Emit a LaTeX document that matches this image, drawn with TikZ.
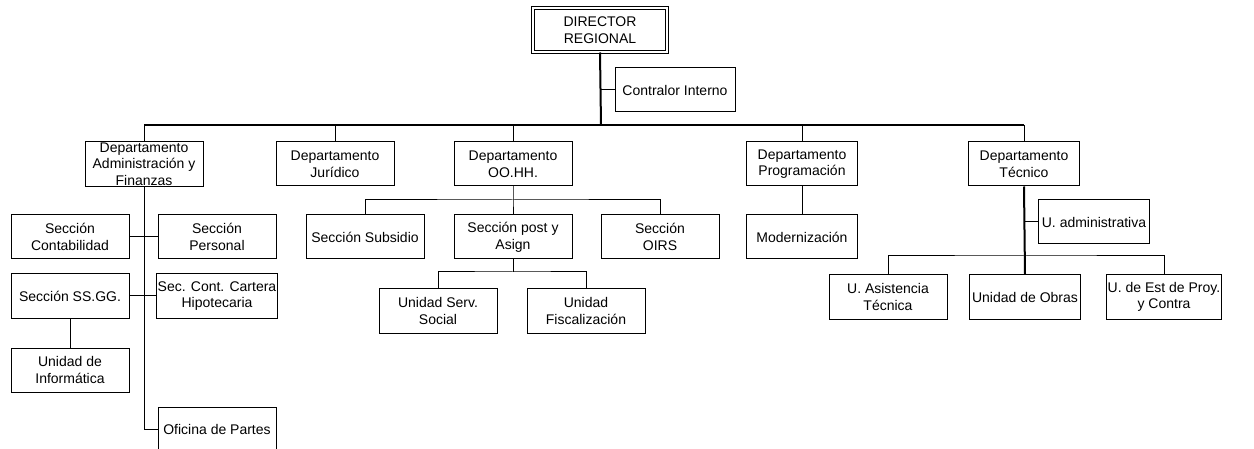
\documentclass[tikz,border=0pt]{standalone}
\usepackage{fontspec}
\setmainfont{Liberation Sans}
\usepackage{tikz}
\usetikzlibrary{positioning}

\tikzset{
  box/.style={draw,line width=0.75pt,align=center,inner sep=1pt,
    minimum width=88.5pt,minimum height=33pt,
    font=\fontsize{10.5}{12.5}\selectfont},
  narrow/.style={box,minimum width=83.5pt},
  thickline/.style={line width=1.5pt}
}

\begin{document}
\begin{tikzpicture}[x=0.75pt,y=-0.75pt,line width=0.75pt]
				\useasboundingbox (0,0) rectangle (1254,449);
				\node(dir)  [box,double,double distance=1.5pt,minimum width=100.5pt] at (600,30) {DIRECTOR\\REGIONAL};
				\node(contr) [box,minimum width=90pt] at (675,90) {Contralor Interno};
				\node(adm)  [box] at (144,164) {Departamento\\Administración y\\Finanzas};
				\node(jur)  [box] at (335,164) {Departamento\\Jurídico};
				\node(ooh)  [box] at (513,164) {Departamento\\OO.HH.};
				\node(prog) [narrow] at (802,164) {Departamento\\Programación};
				\node(tec)  [narrow] at (1024,164) {Departamento\\Técnico};
				\node(cont) [box] at (70,237) {Sección\\Contabilidad};
				\node(pers) [box] at (217,237) {Sección\\Personal};
				\node(ssgg) [box] at (70,296) {Sección SS.GG.};
				\node(cart) [box] at (217,296) {Sec. Cont. Cartera\\Hipotecaria};
				\node(inf)  [box] at (70,370) {Unidad de\\Informática};
				\node(ofi)  [box] at (217,429) {Oficina de Partes};
				\node(subs) [box] at (365,237) {Sección Subsidio};
				\node(post) [box] at (513,237) {Sección post y\\Asign};
				\node(oirs) [box] at (660,237) {Sección\\OIRS};
				\node(serv) [box] at (438,311) {Unidad Serv.\\Social};
				\node(fisc) [box] at (586,311) {Unidad\\Fiscalización};
				\node(mod)  [narrow] at (802,237) {Modernización};
				\node(uadm) [narrow] at (1094,222) {U. administrativa};
				\node(asis) [box] at (888,297) {U. Asistencia\\Técnica};
				\node(obras) [narrow] at (1025,297) {Unidad de Obras};
				\node(est)  [narrow] at (1164,297) {U. de Est de Proy.\\y Contra};
				\coordinate(topbus) at (601,125);
				\coordinate(oobus) at (513,200);
				\coordinate(postbus) at (513,272);
				\coordinate(tecbus) at (1025,256);
			 	\draw[thickline](dir.south) -- (topbus);
			 	\draw(dir.south |- contr.west) -- (contr.west);
			 	\draw[thickline](adm.north |- topbus) -- (tec.north |- topbus);
			 	\draw(adm.north |- topbus) -- (adm.north);
			 	\draw(jur.north |- topbus) -- (jur.north);
			 	\draw(ooh.north |- topbus) -- (ooh.north);
			 	\draw(prog.north |- topbus) -- (prog.north);
			 	\draw(tec.north |- topbus) -- (tec.north);
			 	\draw(adm.south) -- (adm.south |- ofi.west) -- (ofi.west);
			 	\draw(cont.east) -- (pers.west);
			 	\draw(ssgg.east) -- (cart.west);
			 	\draw(ssgg) -- (inf);
			 	\draw(ooh.south) -- (oobus) -- (post.north);
			 	\draw(subs.north) |- (oobus) -| (oirs.north);
			 	\draw(post.south) -- (postbus);
			 	\draw(serv.north) |- (postbus) -| (fisc.north);
			 	\draw(prog) -- (mod);
			 	\draw[thickline](tec.south) -- (obras.north);
			 	\draw(tec.south |- uadm.west) -- (uadm.west);
			 	\draw(asis.north) |- (tecbus) -| (est.north);
			\end{tikzpicture}
\end{document}
